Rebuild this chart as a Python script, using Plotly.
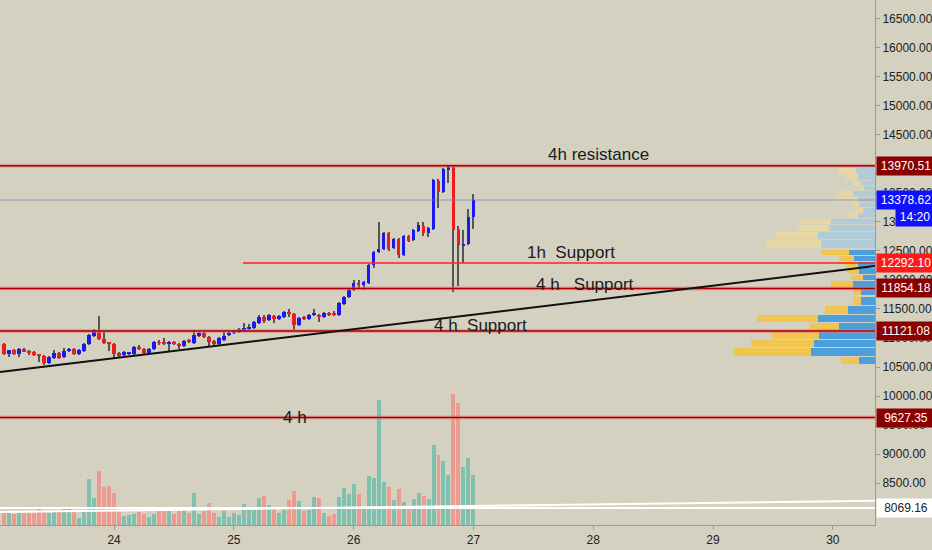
import numpy as np
import pandas as pd
import plotly.graph_objects as go

# hourly candles, 23 Jun 02:00 -> 27 Jun 00:00
opens = [10897, 10725, 10793, 10725, 10810, 10759, 10759, 10707, 10690, 10570,
         10655, 10742, 10673, 10776, 10810, 10725, 10776, 10897, 11035, 11121,
         10983, 10914, 10897, 10742, 10707, 10725, 10725, 10845, 10810, 10742,
         10810, 10931, 10931, 10897, 10931, 10897, 10862, 10966, 10914, 11035,
         11087, 11018, 10948, 10897, 10966, 11052, 11087, 11104, 11121, 11155,
         11173, 11259, 11362, 11310, 11380, 11328, 11362, 11448, 11414, 11224,
         11362, 11328, 11397, 11397, 11362, 11431, 11414, 11397, 11586, 11707,
         11828, 11948, 11914, 11948, 12259, 12483, 12535, 12810, 12552, 12707,
         12431, 12759, 12690, 12845, 12931, 12810, 12880, 13707, 13517, 13897,
         13948, 12880, 12603, 12621, 13086]
highs = [10920, 10800, 10805, 10820, 10830, 10800, 10770, 10725, 10700, 10690,
         10800, 10760, 10820, 10830, 10830, 10805, 10910, 11070, 11160, 11380,
         11121, 10930, 10910, 10760, 10775, 10760, 10860, 10880, 10825, 10825,
         10945, 10966, 11000, 10945, 10950, 10910, 10966, 10985, 11138, 11104,
         11104, 11035, 10966, 11018, 11104, 11121, 11121, 11173, 11259, 11241,
         11290, 11397, 11397, 11414, 11400, 11397, 11466, 11500, 11431, 11362,
         11380, 11414, 11500, 11414, 11448, 11448, 11466, 11621, 11724, 11845,
         12000, 12000, 11983, 12276, 12500, 13000, 12828, 12830, 12724, 12724,
         12776, 12776, 12880, 13000, 13000, 12914, 13741, 13740, 13931, 13970,
         13983, 12931, 12862, 13224, 13483]
lows = [10710, 10673, 10715, 10673, 10750, 10700, 10690, 10587, 10535, 10555,
        10640, 10640, 10660, 10765, 10710, 10700, 10765, 10880, 11020, 10966,
        10897, 10776, 10655, 10655, 10690, 10700, 10710, 10795, 10725, 10725,
        10795, 10880, 10880, 10776, 10880, 10810, 10845, 10914, 10897, 11018,
        11000, 10862, 10880, 10880, 10948, 11035, 11070, 11087, 11104, 11138,
        11155, 11241, 11250, 11293, 11259, 11310, 11345, 11362, 11138, 11207,
        11310, 11310, 11380, 11276, 11345, 11380, 11380, 11380, 11569, 11690,
        11810, 11862, 11828, 11931, 12207, 12466, 12517, 12500, 12535, 12380,
        12414, 12655, 12672, 12828, 12760, 12740, 12862, 13241, 13500, 13672,
        11793, 11897, 12293, 12603, 12880]
closes = [10725, 10793, 10725, 10810, 10759, 10742, 10707, 10690, 10570, 10673,
          10742, 10655, 10776, 10810, 10725, 10793, 10897, 11052, 11138, 10983,
          10914, 10897, 10725, 10690, 10759, 10742, 10845, 10810, 10742, 10810,
          10931, 10914, 10897, 10931, 10897, 10862, 10948, 10931, 11052, 11087,
          11018, 10931, 10897, 11000, 11035, 11087, 11104, 11155, 11173, 11190,
          11276, 11362, 11293, 11397, 11328, 11380, 11448, 11414, 11224, 11345,
          11328, 11397, 11414, 11362, 11431, 11397, 11397, 11604, 11707, 11828,
          11948, 11914, 11966, 12259, 12483, 12535, 12810, 12535, 12707, 12431,
          12759, 12672, 12862, 12948, 12810, 12897, 13724, 13517, 13914, 13948,
          12862, 12603, 12621, 13086, 13378.62]
volumes = [13, 12, 11, 12, 12, 12, 12, 16, 13, 12,
           13, 13, 16, 16, 13, 7, 13, 46, 27, 54,
           38, 39, 32, 13, 9, 10, 11, 13, 11, 8,
           11, 14, 14, 14, 11, 14, 18, 12, 32, 11,
           14, 22, 12, 8, 14, 8, 12, 10, 21, 15,
           15, 27, 29, 20, 16, 12, 16, 25, 34, 24,
           14, 15, 28, 27, 12, 9, 11, 28, 37, 31,
           41, 31, 17, 49, 47, 125, 43, 38, 25, 36,
           23, 16, 26, 32, 29, 26, 80, 70, 64, 50,
           131, 122, 58, 67, 50]

# visible range volume profile (price rows, up / down volume)
profile_prices = [13883, 13776, 13675, 13586, 13488, 13385, 13293, 13202, 13107, 13014,
                  12900, 12762, 12618, 12474, 12365, 12267, 12152, 12047, 11923, 11799,
                  11641, 11478, 11333, 11187, 11043, 10902, 10759, 10616]
profile_up = [19, 17, 14, 11, 22, 17, 16, 12, 17, 44,
              46, 57, 54, 26, 21, 17, 16, 12, 22, 14,
              14, 27, 57, 36, 56, 61, 64, 16]
profile_down = [18, 12, 8, 3, 15, 22, 5, 8, 10, 32,
                32, 42, 55, 28, 15, 13, 12, 12, 22, 8,
                8, 23, 61, 29, 47, 63, 78, 18]
value_area_high = 12540

levels = [13970.51, 11854.18, 11121.08, 9627.35]
support_1h = 12292.10
last_price = 13378.62
white_level = 8069.16

times = pd.date_range("2019-06-23 02:00", periods=len(opens), freq="h")
x_start, x_end = "2019-06-23 01:09", "2019-06-30 08:27"
HOUR = 3600000

BG = "#d4d1c0"
UP, DOWN = "#1a1aee", "#ee1c1c"

fig = go.Figure()

o, h, l, c = map(np.array, (opens, highs, lows, closes))
up = c >= o

# volume
fig.add_trace(go.Bar(x=times, y=volumes, marker_color=np.where(up, "#7fc0ae", "#eb9b8f"),
                     marker_line_width=0, width=0.8 * HOUR, yaxis="y2", hoverinfo="skip"))
# candle wicks
fig.add_trace(go.Bar(x=times, y=h - l, base=l, width=0.22 * HOUR, marker_color="#555555",
                     marker_line_width=0, hoverinfo="skip"))
# candle bodies
fig.add_trace(go.Bar(x=times, y=np.abs(c - o), base=np.minimum(o, c), width=0.74 * HOUR,
                     marker_color=np.where(up, UP, DOWN), marker_line_width=0,
                     customdata=np.stack([o, h, l, c], axis=1),
                     hovertemplate="O %{customdata[0]} H %{customdata[1]} L %{customdata[2]} C %{customdata[3]}<extra></extra>"))

# volume profile
pp = np.array(profile_prices)
gaps = np.abs(np.diff(pp))
row_w = np.minimum(np.r_[gaps[0], gaps], np.r_[gaps, gaps[-1]]) * 0.9
in_va = pp < value_area_high
fig.add_trace(go.Bar(y=profile_prices, x=profile_up, orientation="h", width=row_w,
                     marker_color=np.where(in_va, "#4d9fdc", "#b2cbd8"),
                     marker_line_width=0, xaxis="x2", yaxis="y", hoverinfo="skip"))
fig.add_trace(go.Bar(y=profile_prices, x=profile_down, base=profile_up, orientation="h",
                     width=row_w, marker_color=np.where(in_va, "#f1c552", "#e6d7a4"),
                     marker_line_width=0, xaxis="x2", yaxis="y", hoverinfo="skip"))

shapes = []
for lv in levels:
    shapes.append(dict(type="line", xref="paper", yref="y", x0=0, x1=1, y0=lv, y1=lv,
                       line=dict(color="rgba(235,120,120,0.55)", width=4)))
    shapes.append(dict(type="line", xref="paper", yref="y", x0=0, x1=1, y0=lv, y1=lv,
                       line=dict(color="#a30000", width=1.5)))
shapes.append(dict(type="line", xref="x", yref="y", x0="2019-06-25 01:50", x1=x_end,
                   y0=support_1h, y1=support_1h, line=dict(color="#ff2222", width=1.5)))
shapes.append(dict(type="line", xref="paper", yref="y", x0=0, x1=1, y0=last_price, y1=last_price,
                   line=dict(color="rgba(120,125,200,0.7)", width=1)))
shapes.append(dict(type="line", xref="x", yref="y", x0=x_start, x1=x_end, y0=10414, y1=12241,
                   line=dict(color="#111111", width=2)))
shapes.append(dict(type="line", xref="paper", yref="y", x0=0, x1=1, y0=white_level, y1=white_level,
                   line=dict(color="white", width=2)))
shapes.append(dict(type="line", xref="x", yref="y", x0=x_start, x1=x_end, y0=8000, y1=8195,
                   line=dict(color="white", width=2)))

annotations = []
tfont = dict(family="Liberation Sans", size=17, color="#1a1a1a")
for txt, t, p in [("4h resistance", "2019-06-28 01:00", 14155),
                  ("1h  Support", "2019-06-27 19:30", 12466),
                  ("4 h   Support", "2019-06-27 22:20", 11914),
                  ("4 h  Support", "2019-06-27 01:30", 11207),
                  ("4 h", "2019-06-25 12:15", 9627.35)]:
    annotations.append(dict(x=t, y=p, xref="x", yref="y", text=txt, showarrow=False, font=tfont))

lfont = "Liberation Sans"
price_boxes = [(13970.51, "#8a0000", "white"), (last_price, "#1010ff", "white"),
               (support_1h, "#ff1a1a", "white"), (11854.18, "#8a0000", "white"),
               (11121.08, "#8a0000", "white"), (9627.35, "#8a0000", "white"),
               (white_level, "white", "#222222")]
for p, bg, fg in price_boxes:
    annotations.append(dict(x=1, y=p, xref="paper", yref="y", xanchor="left", xshift=1,
                            text=f"{p:.2f}", showarrow=False, bgcolor=bg, width=54,
                            borderpad=2, font=dict(family=lfont, size=12, color=fg)))
annotations.append(dict(x=1, y=13086, xref="paper", yref="y", xanchor="left", xshift=20,
                        text="14:20", showarrow=False, bgcolor="#1010ff", width=34, borderpad=2,
                        font=dict(family=lfont, size=12, color="white")))

fig.update_layout(
    width=932, height=550,
    margin=dict(l=0, r=57, t=0, b=25, pad=0),
    paper_bgcolor=BG, plot_bgcolor=BG,
    showlegend=False, barmode="overlay", bargap=0,
    xaxis=dict(type="date", range=[x_start, x_end],
               tickformat="%-d", dtick=86400000, tick0="2019-06-24", showgrid=False,
               zeroline=False, showline=True, linecolor="#9a9a9a", ticks="outside",
               ticklen=4, tickcolor="#9a9a9a",
               tickfont=dict(family=lfont, size=12, color="#222222")),
    xaxis2=dict(overlaying="x", range=[875, 0], visible=False, anchor="y"),
    yaxis=dict(side="right", range=[7776, 16827], dtick=500, tick0=0, tickformat=".2f",
               showgrid=False, zeroline=False, showline=True, linecolor="#9a9a9a",
               ticks="outside", ticklen=4, tickcolor="#9a9a9a",
               tickfont=dict(family=lfont, size=12, color="#222222")),
    yaxis2=dict(overlaying="y", range=[0, 525], visible=False),
    shapes=shapes, annotations=annotations,
)

fig.write_html("out.html", config={"displayModeBar": False},
               post_script="document.body.style.margin='0px';")
